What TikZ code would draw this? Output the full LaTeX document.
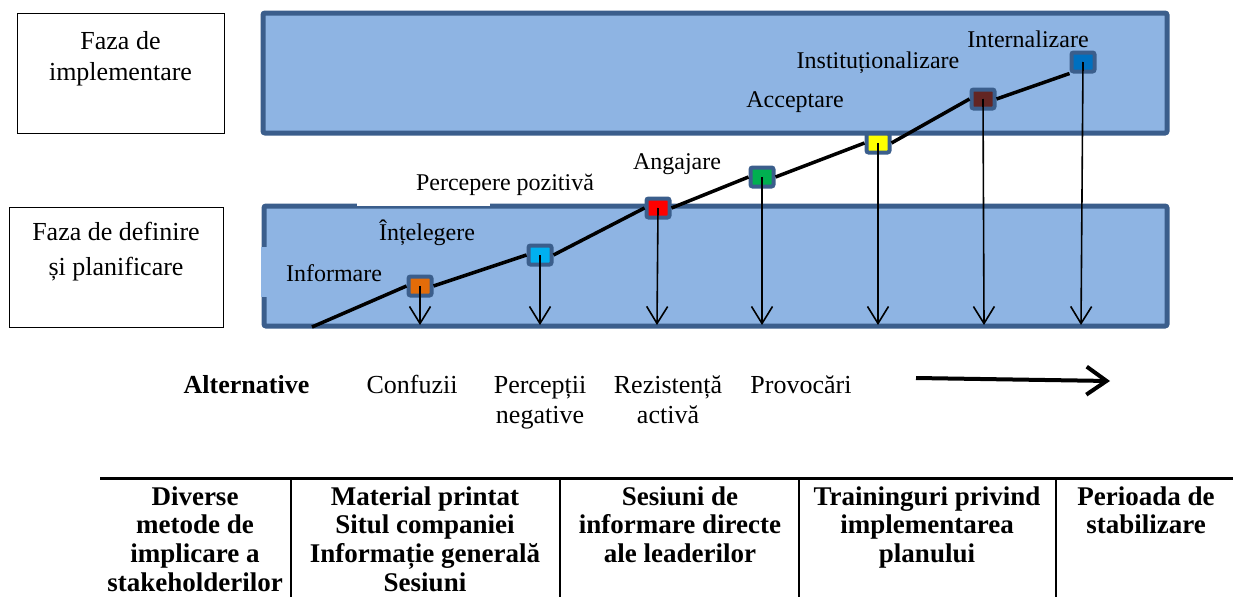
\documentclass[tikz,border=0pt]{standalone}
\usepackage{fontspec}
\setmainfont{Liberation Serif}
\usetikzlibrary{arrows.meta}
\definecolor{phasefill}{HTML}{8EB4E3}
\definecolor{phaseline}{HTML}{3B5E8C}
\definecolor{cOrange}{HTML}{E36C09}
\definecolor{cCyan}{HTML}{00B0F0}
\definecolor{cRed}{HTML}{FF0000}
\definecolor{cGreen}{HTML}{00B050}
\definecolor{cYellow}{HTML}{FFFF00}
\definecolor{cBrown}{HTML}{632523}
\definecolor{cBlue}{HTML}{0070C0}
\begin{document}
\begin{tikzpicture}[x=1pt,y=-1pt,
  phasebox/.style={draw=phaseline,fill=phasefill,line width=5,rounded corners=2},
  namebox/.style={draw=black,line width=1},
  nametext/.style={font=\fontsize{26}{30}\selectfont,anchor=base,inner sep=0},
  stagelabel/.style={font=\fontsize{24}{28}\selectfont,anchor=base,inner sep=0},
  marker/.style={draw=phaseline,line width=4,rounded corners=2,minimum width=23,minimum height=19,inner sep=0},
  drop/.style={line width=1.6,-{Straight Barb[length=17pt,width=21pt]}},
  altlabel/.style={font=\fontsize{26}{30}\selectfont,anchor=base,inner sep=0,align=center},
  cell/.style={font=\bfseries\fontsize{27}{28.6}\selectfont,anchor=base,inner sep=0,align=center},
  rule/.style={line width=2.2}]
\useasboundingbox (0,0) rectangle (1233,597);

% phase names
\draw[namebox] (17,13) rectangle (224,133);
\node[nametext] (impl1) at (120.5,49) {Faza de};
\node[nametext] (impl2) at (120.5,80) {implementare};
\draw[namebox] (9,207) rectangle (223,327);
\node[nametext] (def1) at (116,240) {Faza de definire};
\node[nametext] (def2) at (116,275) {și planificare};

% phase bands
\draw[phasebox] (263,13) rectangle (1167,133);
\draw[phasebox] (264,206) rectangle (1167,326);
\fill[white] (357,203) rectangle (490,206);
\fill[phasefill] (261,247) rectangle (268,297);

% stage labels
\node[stagelabel] (l1) at (334,281) {Informare};
\node[stagelabel] (l2) at (427,240) {Înțelegere};
\node[stagelabel] (l3) at (505,190) {Percepere pozitivă};
\node[stagelabel] (l4) at (677,169) {Angajare};
\node[stagelabel] (l5) at (795,107) {Acceptare};
\node[stagelabel] (l6) at (878,68) {Instituționalizare};
\node[stagelabel] (l7) at (1028,47) {Internalizare};

% stage markers along the rising line
\coordinate (start) at (312,327);
\node[marker,fill=cOrange] (s1) at (420,286) {};
\node[marker,fill=cCyan]   (s2) at (540,255) {};
\node[marker,fill=cRed]    (s3) at (658,208) {};
\node[marker,fill=cGreen]  (s4) at (762,177) {};
\node[marker,fill=cYellow] (s5) at (878,143) {};
\node[marker,fill=cBrown]  (s6) at (983,99) {};
\node[marker,fill=cBlue]   (s7) at (1083,62) {};
\draw[line width=3.5] (start) -- (s1.west) (s1.east) -- (s2.west) (s2.east) -- (s3.west)
  (s3.east) -- (s4.west) (s4.east) -- (s5.west) (s5.east) -- (s6.west) (s6.east) -- (s7.south west);

% drops to the baseline
\foreach \s/\x in {s1/420,s2/540,s3/657,s4/762,s5/878,s6/984,s7/1081}{
  \coordinate (\s b) at (\x,325);
  \draw[drop] (\s.center) -- (\s b);
}

% alternatives row (base = last line)
\node[altlabel,font=\bfseries\fontsize{26}{30}\selectfont] (alt) at (246.5,393) {Alternative};
\node[altlabel] (a1) at (412,393) {Confuzii};
\node[altlabel] (a2) at (540,423) {Percepții\\negative};
\node[altlabel] (a3) at (668,423) {Rezistență\\activă};
\node[altlabel] (a4) at (801,393) {Provocări};
\coordinate (ar1) at (916,378);
\coordinate (ar2) at (1110,381);
\draw[line width=4,-{Straight Barb[length=20pt,width=28pt]}] (ar1) -- (ar2);

% support measures (base = last line)
\draw[line width=3] (100,478) -- (1233,478);
\foreach \x in {291,560,799,1056}{
  \draw[rule] (\x,478) -- (\x,597);
}
\node[cell] (c1) at (195,591) {Diverse\\metode de\\implicare a\\stakeholderilor};
\node[cell] (c2) at (425,591) {Material printat\\Situl companiei\\Informație generală\\Sesiuni};
\node[cell] (c3) at (680,562.2) {Sesiuni de\\informare directe\\ale leaderilor};
\node[cell] (c4) at (927,562.2) {Traininguri privind\\implementarea\\planului};
\node[cell] (c5) at (1146,533.6) {Perioada de\\stabilizare};
\end{tikzpicture}
\end{document}
